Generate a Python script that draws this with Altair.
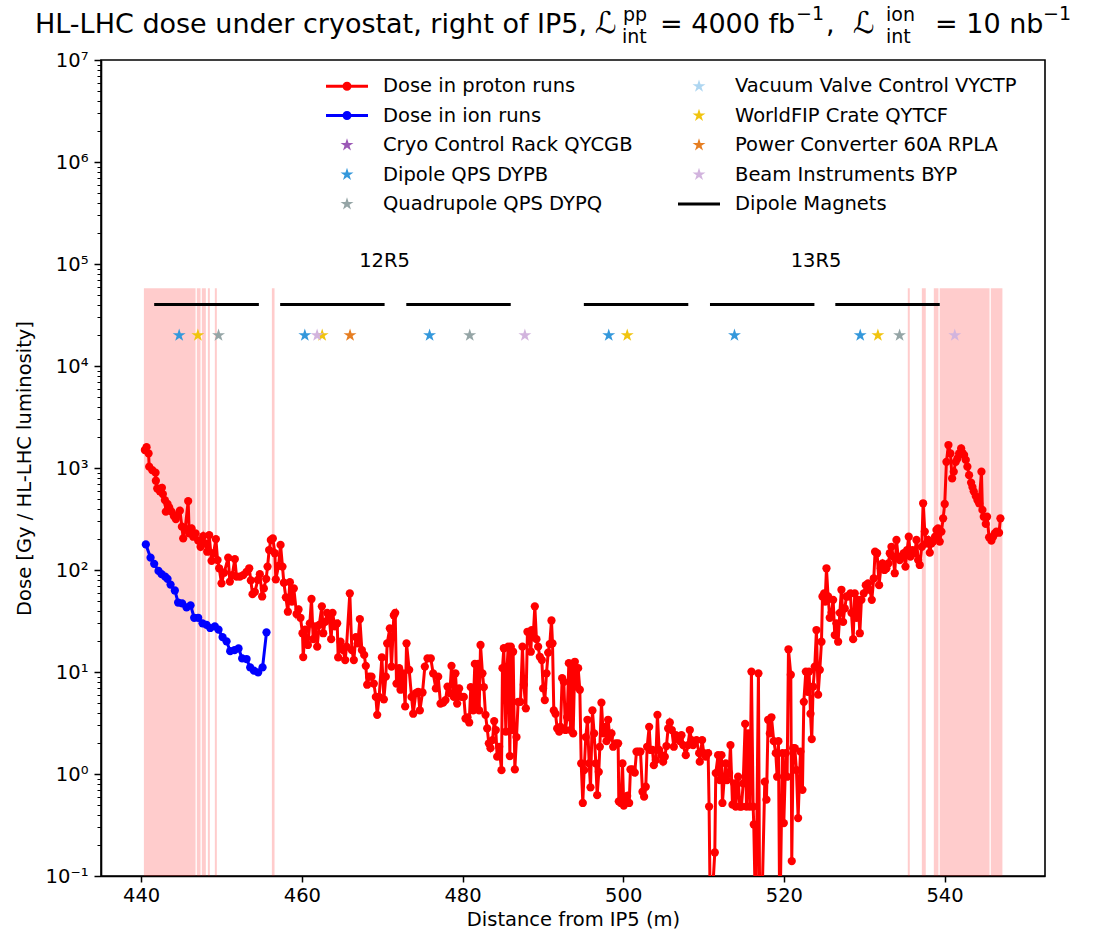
import altair as alt
import pandas as pd

FONT = "DejaVu Sans"

# ---------------- data ----------------
proton_points = [
    (440.46, 1500), (440.67, 1600), (440.92, 1390), (441.0, 1030), (441.37, 955), (441.79, 900),
    (441.83, 750), (442.0, 630), (442.33, 590), (442.58, 640), (442.7, 555), (442.95, 485),
    (443.07, 373), (443.28, 444), (443.49, 411), (443.78, 373), (444.07, 338), (444.32, 316),
    (444.49, 346), (444.82, 382), (445.07, 266), (445.23, 204), (445.48, 256), (445.85, 474),
    (445.98, 229), (446.27, 256), (446.48, 212), (446.77, 229), (447.1, 194), (447.39, 169),
    (447.72, 215), (447.97, 182), (448.22, 151), (448.47, 220), (448.76, 123), (449.01, 146),
    (449.3, 201), (449.51, 125), (449.71, 104), (450.0, 74), (450.33, 94), (450.83, 132),
    (451.04, 77), (451.33, 89), (451.66, 128), (451.87, 86), (452.28, 86), (452.7, 89),
    (453.11, 96), (453.45, 104), (453.65, 79), (453.86, 58), (454.15, 61), (454.52, 80),
    (454.77, 91), (455.06, 55), (455.27, 66), (455.56, 82), (455.73, 108), (455.93, 157),
    (456.14, 197), (456.39, 204), (456.64, 146), (456.76, 81), (457.1, 110), (457.35, 176),
    (457.59, 108), (457.76, 75), (458.01, 54), (458.26, 39), (458.51, 76), (458.76, 49),
    (459.0, 66), (459.34, 37), (459.59, 41), (459.83, 34), (460.08, 24), (460.17, 14),
    (460.41, 26), (460.75, 18.4), (460.99, 30), (461.2, 52), (461.41, 21), (461.66, 28),
    (461.91, 17.7), (462.16, 29), (462.49, 44), (462.66, 24), (462.9, 31), (463.15, 38),
    (463.4, 35), (463.65, 21), (463.82, 38), (464.11, 28), (464.4, 30), (464.52, 13.9),
    (464.81, 19.8), (465.14, 16.4), (465.39, 13.1), (465.56, 17.7), (465.97, 59), (466.22, 16.4),
    (466.47, 13.1), (466.72, 22), (466.97, 19.1), (467.22, 33), (467.47, 16.4), (467.76, 14.7),
    (467.96, 11.5), (468.13, 7.5), (468.38, 9.0), (468.67, 9.0), (468.96, 7.7), (469.21, 5.7),
    (469.38, 3.8), (469.62, 5.7), (469.96, 13.9), (470.21, 5.4), (470.45, 9.0), (470.62, 19.1),
    (470.95, 26.8), (471.16, 11.3), (471.45, 36), (471.62, 38), (471.78, 7.7), (472.11, 10.9),
    (472.28, 6.7), (472.61, 9.7), (472.86, 4.6), (473.03, 19.1), (473.36, 10.5), (473.65, 5.7),
    (473.86, 3.9), (474.19, 6.2), (474.48, 6.4), (474.69, 4.2), (475.02, 6.3), (475.31, 11.3),
    (475.64, 13.6), (476.05, 13.6), (476.34, 9.7), (476.68, 6.9), (476.97, 9.0), (477.26, 4.9),
    (477.59, 5.0), (477.88, 5.3), (478.13, 7.2), (478.42, 6.2), (478.63, 11.5), (478.92, 5.7),
    (479.12, 9.7), (479.33, 4.9), (479.58, 6.9), (479.87, 5.7), (480.16, 5.7), (480.37, 3.5),
    (480.62, 3.6), (480.83, 3.2), (481.03, 7.1), (481.32, 4.2), (481.53, 12.0), (481.74, 4.6),
    (481.95, 12.0), (482.07, 4.2), (482.24, 18.4), (482.48, 9.7), (482.65, 7.1), (482.86, 3.8),
    (483.07, 2.8), (483.27, 2.0), (483.48, 1.79), (483.73, 2.15), (483.94, 3.3), (484.14, 2.7),
    (484.31, 1.48), (484.56, 1.85), (484.85, 1.09), (484.97, 10.9), (485.14, 17.1), (485.39, 2.6),
    (485.55, 11.3), (485.68, 17.7), (485.89, 1.5), (486.01, 17.7), (486.18, 2.7), (486.3, 15.8),
    (486.51, 1.11), (486.72, 2.3), (486.92, 5.1), (487.21, 5.1), (487.46, 17.7), (487.63, 7.5),
    (487.88, 4.4), (488.08, 24.8), (488.29, 24.8), (488.5, 15.8), (488.62, 25.8), (488.79, 22),
    (489.0, 44), (489.2, 21), (489.41, 17.7), (489.62, 14.1), (489.87, 13.1), (490.03, 6.9),
    (490.24, 5.3), (490.45, 9.7), (490.66, 15.5), (490.86, 18.8), (491.07, 32), (491.2, 19.1),
    (491.36, 4.2), (491.57, 3.9), (491.78, 2.8), (492.03, 2.6), (492.2, 2.9), (492.4, 8.7),
    (492.61, 8.0), (492.81, 2.7), (493.02, 3.6), (493.23, 12.2), (493.44, 2.7), (493.64, 11.3),
    (493.77, 2.5), (493.98, 12.6), (494.18, 7.2), (494.39, 10.9), (494.6, 6.7), (494.77, 1.27),
    (494.97, 0.52), (495.14, 1.09), (495.34, 2.3), (495.55, 3.4), (495.76, 1.27), (495.93, 0.74),
    (496.17, 4.2), (496.38, 2.5), (496.59, 1.27), (496.76, 0.62), (496.96, 1.05), (497.09, 1.85),
    (497.29, 5.0), (497.5, 2.5), (497.71, 2.9), (497.92, 2.1), (498.12, 3.4), (498.33, 2.3),
    (498.54, 2.5), (498.75, 1.85), (499.08, 2.0), (499.37, 2.0), (499.45, 0.54), (499.7, 0.52),
    (499.91, 1.27), (500.07, 0.49), (500.28, 0.54), (500.49, 0.61), (500.74, 0.52), (500.9, 1.11),
    (501.15, 1.11), (501.44, 1.03), (501.65, 1.66), (501.9, 1.66), (502.15, 1.66), (502.4, 0.67),
    (502.6, 0.6), (502.81, 0.75), (502.98, 1.85), (503.23, 2.9), (503.39, 1.72), (503.64, 1.72),
    (503.81, 1.22), (504.06, 1.37), (504.26, 3.8), (504.47, 1.72), (504.76, 1.53), (504.97, 1.32),
    (505.18, 1.48), (505.38, 1.88), (505.59, 2.8), (505.8, 3.2), (506.05, 2.7), (506.3, 1.85),
    (506.55, 2.4), (506.84, 2.3), (507.04, 2.1), (507.25, 2.4), (507.46, 1.92), (507.79, 1.53),
    (508.08, 1.92), (508.29, 2.7), (508.5, 2.15), (508.7, 1.92), (509.12, 2.15), (509.45, 1.6),
    (509.53, 1.32), (509.82, 2.15), (510.03, 1.6), (510.28, 1.48), (510.57, 1.6), (510.69, 0.48),
    (510.86, 0.03), (511.4, 0.17), (511.52, 1.02), (511.81, 1.53), (512.02, 0.87), (512.23, 1.53),
    (512.35, 0.52), (512.56, 0.87), (512.77, 1.27), (512.93, 0.87), (513.18, 1.02), (513.35, 1.92),
    (513.6, 0.5), (513.81, 0.81), (514.01, 0.48), (514.3, 0.94), (514.51, 0.48), (514.72, 0.48),
    (514.93, 0.81), (515.18, 3.1), (515.34, 0.48), (515.55, 2.5), (515.76, 0.48), (515.96, 10.1),
    (516.17, 0.48), (516.25, 0.32), (516.5, 0.03), (516.83, 9.7), (517.0, 0.03), (517.2, 0.03),
    (517.62, 0.84), (517.83, 0.56), (518.04, 3.4), (518.25, 2.5), (518.45, 3.6), (518.74, 2.1),
    (518.99, 1.6), (519.16, 0.94), (519.32, 2.1), (519.49, 0.03), (519.82, 1.6), (519.99, 0.33),
    (520.24, 1.6), (520.4, 0.94), (520.57, 16.7), (520.86, 9.4), (520.98, 0.14), (521.15, 1.79),
    (521.36, 1.79), (521.56, 1.09), (521.77, 0.37), (522.06, 1.66), (522.31, 0.7), (522.48, 5.1),
    (522.73, 10.1), (522.97, 6.4), (523.14, 10.1), (523.31, 3.9), (523.47, 2.2), (523.64, 7.2),
    (523.84, 11.3), (524.05, 25.8), (524.26, 6.0), (524.47, 10.5), (524.68, 19.8), (524.8, 55),
    (525.01, 59), (525.13, 49), (525.3, 104), (525.5, 55), (525.71, 34), (525.92, 38),
    (526.13, 51), (526.33, 23), (526.54, 30), (526.75, 19.8), (526.96, 38), (527.16, 64),
    (527.37, 31), (527.58, 42), (527.79, 55), (527.99, 55), (528.28, 59), (528.41, 38),
    (528.62, 21), (528.82, 59), (529.03, 34), (529.24, 51), (529.45, 24), (529.65, 51),
    (529.94, 59), (530.19, 71), (530.48, 74), (530.69, 64), (530.94, 51), (531.19, 83),
    (531.35, 151), (531.6, 146), (531.85, 71), (532.06, 104), (532.27, 116), (532.52, 100),
    (532.76, 104), (533.01, 116), (533.18, 146), (533.39, 169), (533.59, 135), (533.8, 93),
    (534.01, 197), (534.22, 135), (534.42, 125), (534.63, 135), (534.92, 146), (535.13, 108),
    (535.34, 157), (535.54, 212), (535.75, 135), (536.0, 157), (536.29, 146), (536.5, 197),
    (536.71, 125), (536.91, 112), (537.16, 169), (537.33, 451), (537.54, 238), (537.74, 182),
    (537.95, 197), (538.16, 148), (538.36, 182), (538.57, 190), (538.82, 212), (538.99, 247),
    (539.19, 256), (539.4, 190), (539.61, 238), (539.82, 321), (540.02, 444), (540.23, 1150),
    (540.48, 1680), (540.73, 1390), (540.94, 790), (541.14, 920), (541.39, 1150), (541.6, 1240),
    (541.81, 1390), (542.06, 1560), (542.22, 1410), (542.43, 1340), (542.64, 1200), (542.84, 1030),
    (543.05, 850), (543.3, 720), (543.47, 650), (543.63, 590), (543.88, 530), (544.09, 485),
    (544.3, 451), (544.59, 920), (544.71, 388), (544.88, 333), (545.13, 283), (545.29, 333),
    (545.54, 209), (545.83, 194), (546.04, 212), (546.25, 229), (546.45, 238), (546.78, 232),
    (546.95, 321),
]

ion_points = [
    (440.58, 178), (441.17, 132), (441.62, 115), (442.16, 98), (442.54, 91), (442.99, 86),
    (443.28, 82), (443.66, 72), (444.19, 63), (444.6, 48), (445.1, 47), (445.65, 43),
    (446.15, 45), (446.6, 34), (447.1, 34), (447.64, 30), (448.14, 29), (448.59, 27),
    (449.17, 28), (449.63, 26), (450.13, 22), (450.63, 20), (451.08, 16), (451.62, 16.4),
    (452.12, 17), (452.57, 13.6), (453.12, 13.4), (453.57, 11.1), (454.03, 10.3), (454.56, 9.9),
    (455.11, 11.1), (455.6, 24.5),
]

cryo_rack_x = []
dipole_qps_x = [444.73, 460.37, 475.9, 498.2, 513.85, 529.5]
quad_qps_x = [449.63, 480.9, 534.4]
vacuum_valve_x = []
worldfip_x = [447.06, 462.53, 500.5, 531.7]
power_conv_x = [466.0]
beam_instr_x = [461.9, 487.76, 541.27]
equipment_level = 2.0e4

magnet_start = [441.62, 457.3, 473.0, 495.1, 510.8, 526.4]
magnet_end = [454.65, 470.3, 486.0, 508.1, 523.8, 539.4]
magnet_level = 4.0e4

span_start = [440.34, 446.93, 447.55, 448.3, 449.17, 456.27, 535.42, 537.17, 538.66, 539.39, 545.75]
span_end = [446.77, 447.39, 448.05, 448.55, 449.42, 456.6, 535.67, 537.66, 539.24, 545.6, 547.2]
span_bottom = 0.1
span_top = 5.8e4

cell_names = ["12R5", "13R5"]
cell_x = [470.3, 524.0]
cell_level = 1.07e5

# legend entries (the legend fills its two columns top to bottom)
legend_order = [
    "Dose in proton runs", "Dose in ion runs", "Cryo Control Rack QYCGB",
    "Dipole QPS DYPB", "Quadrupole QPS DYPQ",
    "Vacuum Valve Control VYCTP", "WorldFIP Crate QYTCF", "Power Converter 60A RPLA",
    "Beam Instruments BYP", "Dipole Magnets",
]
legend_colors = [
    "#ff0000", "#0000ff", "#9b59b6",
    "#3498db", "#95a5a6",
    "#aed6f1", "#f1c40f", "#e67e22",
    "#d2b4de", "#000000",
]

x_ticks = [440, 460, 480, 500, 520, 540]
y_major = [0.1, 1, 10, 100, 1000, 10000, 100000, 1000000, 10000000]
y_major_labels = ["10⁻¹", "10⁰", "10¹", "10²", "10³", "10⁴", "10⁵", "10⁶", "10⁷"]

title_pieces = ["HL-LHC dose under cryostat, right of IP5,", "ℒ", "pp", "int", "= 4000 fb", "−1",
                ",", "ℒ", "ion", "int", "= 10 nb", "−1"]
x_title = "Distance from IP5 (m)"
y_title = "Dose [Gy / HL-LHC luminosity]"

# ---------------- styles ----------------
STAR = ("M-2.1,0M2.1,0M0,-0.68L0.153,-0.21L0.647,-0.21L0.247,0.08L0.4,0.55L0,0.26"
        "L-0.4,0.55L-0.247,0.08L-0.647,-0.21L-0.153,-0.21Z")
LINE_DOT = ("M-2.1,-0.14H2.1V0.14H-2.1Z"
            "M0.45,0A0.45,0.45 0 1 1 -0.45,0A0.45,0.45 0 1 1 0.45,0Z")
LINE = "M-2.1,-0.15H2.1V0.15H-2.1Z"
legend_shapes = [LINE_DOT, LINE_DOT, STAR, STAR, STAR, STAR, STAR, STAR, STAR, LINE]

# ---------------- tables ----------------
proton_df = pd.DataFrame(proton_points, columns=["x", "dose"])
ion_df = pd.DataFrame(ion_points, columns=["x", "dose"])

star_rows = []
for name, xs in [("Cryo Control Rack QYCGB", cryo_rack_x), ("Dipole QPS DYPB", dipole_qps_x),
                 ("Quadrupole QPS DYPQ", quad_qps_x), ("Vacuum Valve Control VYCTP", vacuum_valve_x),
                 ("WorldFIP Crate QYTCF", worldfip_x), ("Power Converter 60A RPLA", power_conv_x),
                 ("Beam Instruments BYP", beam_instr_x)]:
    for xv in xs:
        star_rows.append({"x": xv, "level": equipment_level, "series": name})
star_df = pd.DataFrame(star_rows)

magnet_df = pd.DataFrame({"start": magnet_start, "end": magnet_end,
                          "level": [magnet_level] * len(magnet_start)})
span_df = pd.DataFrame({"start": span_start, "end": span_end,
                        "lo": [span_bottom] * len(span_start), "hi": [span_top] * len(span_start)})
cell_df = pd.DataFrame({"name": cell_names, "x": cell_x, "level": [cell_level] * len(cell_names)})

# ---------------- axes ----------------
y_minor = [m * 10.0 ** k for k in range(-1, 7) for m in range(2, 10)]
y_all = sorted(y_major + y_minor)
major_list = "[" + ",".join(repr(float(v)) for v in y_major) + "]"
is_major = f"indexof({major_list}, datum.value) >= 0"
label_expr = " : ".join(f"datum.value == {float(v)!r} ? '{lab}'"
                        for v, lab in zip(y_major, y_major_labels)) + " : ''"

x_scale = alt.Scale(domain=[435, 552.5], nice=False, zero=False)
y_scale = alt.Scale(type="log", domain=[0.1, 1e7], nice=False)
x_axis = alt.Axis(values=x_ticks, title=x_title, grid=False, tickSize=6, tickWidth=1.5,
                  labelPadding=4, titlePadding=6, format="d")
y_axis = alt.Axis(values=y_all, title=y_title, grid=False, labelExpr=label_expr,
                  tickSize={"condition": {"test": is_major, "value": 7}, "value": 4},
                  tickWidth={"condition": {"test": is_major, "value": 1.5}, "value": 1},
                  labelPadding=6, titlePadding=11)


def X(field):
    return alt.X(f"{field}:Q", scale=x_scale, axis=x_axis)


def Y(field):
    return alt.Y(f"{field}:Q", scale=y_scale, axis=y_axis)


spans = alt.Chart(span_df).mark_rect(color="red", opacity=0.2, clip=True).encode(
    x=X("start"), x2="end:Q", y=Y("lo"), y2="hi:Q")

proton_line = alt.Chart(proton_df).mark_line(color="red", strokeWidth=3, clip=True).encode(
    x=X("x"), y=Y("dose"))
proton_pts = alt.Chart(proton_df).mark_circle(color="red", size=68, opacity=1, clip=True).encode(
    x=X("x"), y=Y("dose"))
ion_line = alt.Chart(ion_df).mark_line(color="blue", strokeWidth=3, clip=True).encode(
    x=X("x"), y=Y("dose"))
ion_pts = alt.Chart(ion_df).mark_circle(color="blue", size=68, opacity=1, clip=True).encode(
    x=X("x"), y=Y("dose"))

magnets = alt.Chart(magnet_df).mark_rule(color="black", strokeWidth=3).encode(
    x=X("start"), x2="end:Q", y=Y("level"))

legend = alt.Legend(orient="none", legendX=236, legendY=16, columns=2, title=None,
                    labelFont=FONT, labelFontSize=19.5, labelColor="black", labelLimit=500,
                    symbolSize=400, labelOffset=26, rowPadding=9.5, columnPadding=45,
                    symbolStrokeWidth=0, padding=0, symbolOffset=0)
stars = alt.Chart(star_df).mark_point(filled=True, size=400, opacity=1, strokeWidth=0).encode(
    x=X("x"), y=Y("level"),
    color=alt.Color("series:N", scale=alt.Scale(domain=legend_order, range=legend_colors), legend=legend),
    shape=alt.Shape("series:N", scale=alt.Scale(domain=legend_order, range=legend_shapes), legend=legend),
)

cells = alt.Chart(cell_df).mark_text(font=FONT, fontSize=19.5, color="black",
                                     align="center", baseline="middle").encode(
    x=X("x"), y=Y("level"), text="name:N")

# title pieces (main text, script L, superscripts, subscripts), relative to the plot frame
title_layout = [
    (-66, -27, 27), (494, -27, 30), (522, -39, 19), (521, -17, 19), (559, -27, 27), (695, -40, 19),
    (725, -27, 27), (752, -27, 30), (785, -39, 19), (785, -17, 19), (834, -27, 27), (942, -40, 19),
]
title_layers = []
for piece, (tx, ty, fs) in zip(title_pieces, title_layout):
    title_layers.append(
        alt.Chart(alt.Data(values=[{"t": piece}])).mark_text(
            font=FONT, fontSize=fs, color="black", align="left", baseline="alphabetic"
        ).encode(text="t:N", x=alt.value(tx), y=alt.value(ty))
    )

chart = alt.layer(
    spans, magnets, proton_line, proton_pts, ion_line, ion_pts, stars, cells, *title_layers
).properties(
    width=944, height=816,
    autosize=alt.AutoSizeParams(type="none"),
    padding={"left": 101, "top": 60, "right": 48, "bottom": 60},
    background="white",
).configure_view(
    stroke="black", strokeWidth=1.6
).configure_axis(
    domainColor="black", domainWidth=1.6, tickColor="black",
    labelColor="black", titleColor="black",
    labelFont=FONT, titleFont=FONT, labelFontSize=19.5, titleFontSize=19.5,
    titleFontWeight="normal",
)

chart.save("out.html", embed_options={"renderer": "svg", "actions": False})
